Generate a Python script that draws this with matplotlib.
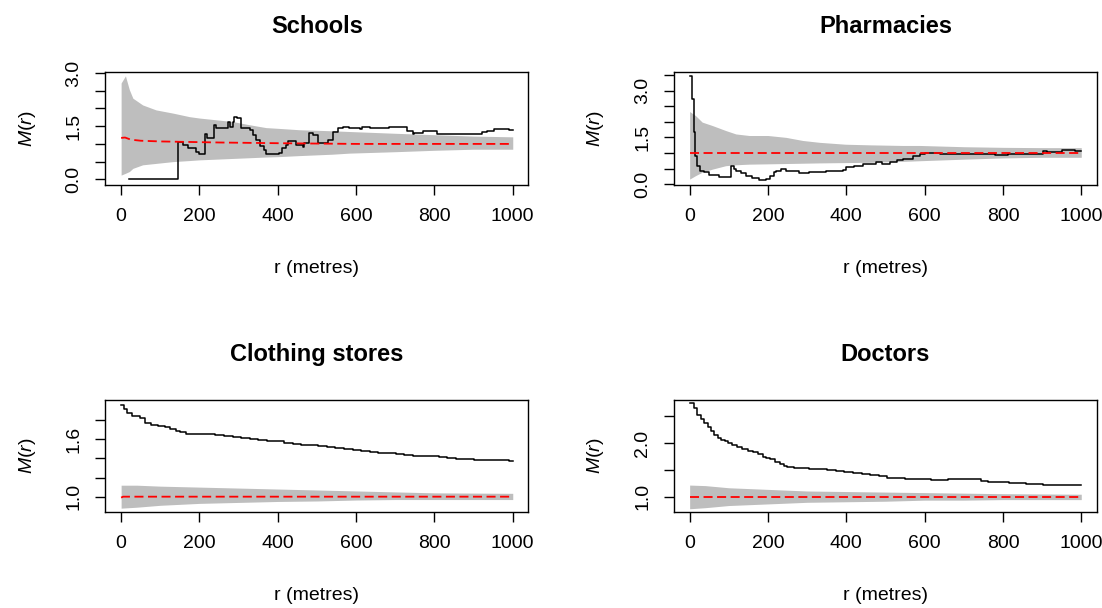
import numpy as np
import matplotlib
matplotlib.use('Agg')
import matplotlib.pyplot as plt

plt.rcParams['font.family'] = ['Liberation Sans', 'DejaVu Sans']
plt.rcParams['mathtext.fontset'] = 'custom'
plt.rcParams['mathtext.rm'] = 'Liberation Sans'
plt.rcParams['mathtext.it'] = 'Liberation Sans:italic'

GREY = '#bebebe'

titles = ['Schools', 'Pharmacies', 'Clothing stores', 'Doctors']

# observed M(r), step function break points
schools_r = [21, 145, 157, 170, 191, 200, 213, 219, 238, 243, 260, 272, 277, 285, 289, 297, 306, 328,
             336, 345, 355, 366, 370, 404, 410, 421, 426, 447, 464, 468, 481, 490, 502, 528, 540, 553,
             566, 583, 609, 614, 636, 684, 730, 745, 748, 771, 807, 921, 935, 951, 990, 1000]
schools_m = [0.0, 1.05, 0.97, 0.88, 0.76, 0.72, 1.27, 1.18, 1.54, 1.44, 1.46, 1.61, 1.49, 1.63, 1.77,
             1.73, 1.44, 1.40, 1.25, 1.11, 0.95, 0.83, 0.71, 0.74, 0.88, 0.97, 1.07, 0.97, 0.92, 1.02,
             1.30, 1.25, 1.02, 1.11, 1.35, 1.46, 1.49, 1.46, 1.42, 1.49, 1.46, 1.49, 1.37, 1.27, 1.32,
             1.37, 1.27, 1.33, 1.37, 1.42, 1.39, 1.39]

pharm_r = [0, 7, 11, 14, 18, 26, 37, 50, 75, 105, 112, 118, 130, 144, 160, 178, 195, 205, 215, 220,
           233, 245, 280, 306, 349, 391, 400, 420, 443, 477, 490, 511, 530, 545, 571, 588, 602, 638,
           779, 814, 903, 912, 951, 985, 1000]
pharm_m = [3.46, 2.74, 1.67, 0.91, 0.59, 0.43, 0.38, 0.30, 0.24, 0.57, 0.50, 0.43, 0.35, 0.27, 0.20,
           0.13, 0.16, 0.25, 0.40, 0.43, 0.48, 0.42, 0.37, 0.40, 0.43, 0.46, 0.54, 0.58, 0.65, 0.70,
           0.66, 0.72, 0.77, 0.81, 0.89, 0.97, 1.00, 0.96, 0.93, 0.98, 1.07, 1.04, 1.09, 1.07, 1.07]

cloth_r = [0, 8, 15, 29, 47, 60, 77, 95, 112, 125, 139, 150, 165, 190, 218, 240, 262, 285, 306, 328,
           350, 372, 394, 416, 438, 460, 481, 503, 525, 547, 569, 591, 613, 635, 657, 680, 701, 723,
           745, 767, 789, 811, 833, 855, 877, 900, 920, 955, 990, 1000]
cloth_m = [1.96, 1.92, 1.87, 1.84, 1.82, 1.77, 1.75, 1.74, 1.73, 1.71, 1.69, 1.68, 1.66, 1.655, 1.65,
           1.64, 1.63, 1.62, 1.61, 1.60, 1.59, 1.585, 1.58, 1.565, 1.55, 1.545, 1.54, 1.53, 1.52,
           1.51, 1.50, 1.49, 1.48, 1.47, 1.46, 1.455, 1.45, 1.44, 1.43, 1.425, 1.42, 1.41, 1.40,
           1.395, 1.39, 1.385, 1.38, 1.38, 1.37, 1.37]

doc_r = [0, 11, 19, 28, 37, 46, 55, 63, 72, 81, 90, 99, 108, 121, 134, 148, 161, 174, 187, 196, 205,
         218, 231, 240, 249, 266, 284, 306, 329, 351, 373, 395, 417, 439, 461, 483, 505, 527, 549,
         572, 594, 616, 638, 660, 682, 704, 726, 743, 761, 788, 815, 859, 903, 1000]
doc_m = [2.74, 2.66, 2.53, 2.44, 2.38, 2.30, 2.22, 2.15, 2.09, 2.06, 2.03, 2.00, 1.97, 1.93, 1.89,
         1.86, 1.83, 1.79, 1.75, 1.72, 1.70, 1.65, 1.61, 1.58, 1.56, 1.545, 1.53, 1.52, 1.51, 1.495,
         1.48, 1.46, 1.44, 1.425, 1.41, 1.385, 1.36, 1.35, 1.34, 1.335, 1.33, 1.32, 1.31, 1.325,
         1.34, 1.335, 1.33, 1.30, 1.28, 1.27, 1.26, 1.24, 1.22, 1.22]

# simulation envelopes (lower / upper) and theoretical mean
schools_env_r = [0, 11, 21, 30, 55, 89, 132, 174, 200, 243, 285, 328, 370, 400, 455, 540, 583, 700,
                 800, 900, 1000]
schools_hi = [2.72, 2.92, 2.53, 2.29, 2.10, 1.96, 1.87, 1.77, 1.73, 1.68, 1.63, 1.54, 1.46, 1.44,
              1.40, 1.37, 1.35, 1.30, 1.26, 1.22, 1.20]
schools_lo = [0.12, 0.17, 0.22, 0.31, 0.41, 0.45, 0.50, 0.53, 0.55, 0.57, 0.59, 0.61, 0.63, 0.64,
              0.67, 0.71, 0.74, 0.78, 0.82, 0.85, 0.85]
schools_mean_r = [0, 10, 25, 50, 100, 150, 250, 400, 600, 1000]
schools_mean = [1.17, 1.18, 1.12, 1.09, 1.07, 1.06, 1.04, 1.02, 1.0, 1.0]

pharm_env_r = [0, 15, 32, 58, 92, 118, 152, 200, 246, 289, 332, 398, 460, 545, 588, 700, 800, 900, 1000]
pharm_hi = [2.33, 2.20, 1.99, 1.88, 1.72, 1.61, 1.56, 1.56, 1.50, 1.40, 1.34, 1.28, 1.26, 1.24, 1.24,
            1.20, 1.18, 1.17, 1.17]
pharm_lo = [0.16, 0.27, 0.38, 0.48, 0.59, 0.62, 0.64, 0.65, 0.66, 0.67, 0.68, 0.69, 0.70, 0.73, 0.75,
            0.80, 0.84, 0.86, 0.86]
pharm_mean_r = [0, 1000]
pharm_mean = [1.0, 1.0]

cloth_env_r = [0, 40, 100, 200, 300, 400, 500, 600, 700, 800, 1000]
cloth_hi = [1.12, 1.12, 1.11, 1.10, 1.09, 1.08, 1.07, 1.06, 1.05, 1.04, 1.035]
cloth_lo = [0.88, 0.89, 0.91, 0.93, 0.94, 0.95, 0.955, 0.965, 0.97, 0.97, 0.97]
cloth_mean_r = [0, 5, 1000]
cloth_mean = [0.99, 1.0, 1.0]

doc_env_r = [0, 40, 100, 200, 300, 400, 500, 600, 700, 800, 1000]
doc_hi = [1.22, 1.21, 1.17, 1.14, 1.11, 1.10, 1.09, 1.08, 1.07, 1.06, 1.05]
doc_lo = [0.78, 0.80, 0.84, 0.87, 0.90, 0.91, 0.92, 0.94, 0.94, 0.95, 0.95]
doc_mean_r = [0, 1000]
doc_mean = [1.0, 1.0]

# axis ticks (R drops the labels that would overlap)
schools_yticks = [0.0, 0.5, 1.0, 1.5, 2.0, 2.5, 3.0]
schools_ylabels = ['0.0', '', '', '1.5', '', '', '3.0']
pharm_yticks = [0.0, 0.5, 1.0, 1.5, 2.0, 2.5, 3.0, 3.5]
pharm_ylabels = ['0.0', '', '', '1.5', '', '', '3.0', '']
cloth_yticks = [1.0, 1.2, 1.4, 1.6, 1.8]
cloth_ylabels = ['1.0', '', '', '1.6', '']
doc_yticks = [1.0, 1.5, 2.0, 2.5]
doc_ylabels = ['1.0', '', '2.0', '']
xticks = [0, 200, 400, 600, 800, 1000]


def draw_panel(ax, title, obs_r, obs_m, env_r, lo, hi, mean_r, mean, yticks, ylabels, ylim):
    ax.fill_between(env_r, lo, hi, color=GREY, linewidth=0)
    ax.plot(obs_r, obs_m, color='black', linewidth=1.1, drawstyle='steps-post')
    ax.plot(mean_r, mean, color='red', linewidth=1.3, dashes=(5, 2.5))
    ax.set_xlim(-40, 1040)
    ax.set_ylim(*ylim)
    ax.set_xticks(xticks)
    ax.set_yticks(yticks)
    ax.set_yticklabels(ylabels, rotation=90, va='center')
    ax.tick_params(direction='out', length=7, width=1, pad=9.5, labelsize=14)
    for s in ax.spines.values():
        s.set_linewidth(1)
    ax.set_xlabel('r (metres)', fontsize=14, labelpad=25)
    ax.set_ylabel('$M(r)$', fontsize=14, labelpad=20)
    ax.set_title(title, fontsize=17, fontweight='bold', pad=28)


fig = plt.figure(figsize=(11.02, 6.08), dpi=100)
left_x, right_x, width = 0.0957, 0.6116, 0.3838
top_y, top_h = 0.6957, 0.1859
bot_y, bot_h = 0.1579, 0.1842

ax1 = fig.add_axes([left_x, top_y, width, top_h])
ax2 = fig.add_axes([right_x, top_y, width, top_h])
ax3 = fig.add_axes([left_x, bot_y, width, bot_h])
ax4 = fig.add_axes([right_x, bot_y, width, bot_h])

draw_panel(ax1, titles[0], schools_r, schools_m, schools_env_r, schools_lo, schools_hi,
           schools_mean_r, schools_mean, schools_yticks, schools_ylabels, (-0.16, 3.03))
draw_panel(ax2, titles[1], pharm_r, pharm_m, pharm_env_r, pharm_lo, pharm_hi,
           pharm_mean_r, pharm_mean, pharm_yticks, pharm_ylabels, (-0.03, 3.6))
draw_panel(ax3, titles[2], cloth_r, cloth_m, cloth_env_r, cloth_lo, cloth_hi,
           cloth_mean_r, cloth_mean, cloth_yticks, cloth_ylabels, (0.84, 2.01))
draw_panel(ax4, titles[3], doc_r, doc_m, doc_env_r, doc_lo, doc_hi,
           doc_mean_r, doc_mean, doc_yticks, doc_ylabels, (0.72, 2.80))

fig.savefig('out.png', dpi=100)
